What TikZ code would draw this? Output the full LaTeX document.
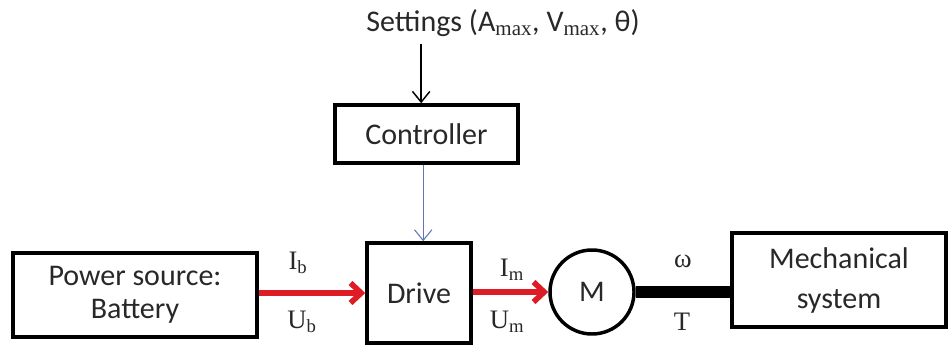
\documentclass[tikz,border=0pt]{standalone}
\usepackage{fontspec}
\setmainfont{Carlito}
\newfontfamily\labfont{Liberation Serif}
\usetikzlibrary{arrows.meta}
\definecolor{flowred}{RGB}{222,28,38}
\definecolor{ctrlblue}{RGB}{95,120,180}
\definecolor{textgray}{RGB}{40,40,40}
\tikzset{
  blockbox/.style={draw, line width=2.6pt, inner sep=0pt, align=center,
    text=textgray, font=\fontsize{22.5}{25}\selectfont},
  siglabel/.style={inner sep=0pt, text=textgray, font=\labfont\fontsize{20}{20}\selectfont},
  sigarrow/.style={line width=1.1pt, -{Straight Barb[length=8pt,width=13pt]}},
  powerflow/.style={flowred, line width=4.2pt, -{Straight Barb[length=8pt,width=15pt]}},
}
\begin{document}
\begin{tikzpicture}[x=0.75pt,y=0.75pt,yscale=-1,xscale=1]
\useasboundingbox (0,0) rectangle (948,346);
%Blocks
\node [blockbox, minimum width=183pt, minimum height=63pt] (power) at (135,295) {Power source:\\Battery};
\node [blockbox, minimum width=78pt, minimum height=75pt] (drive) at (419,293) {Drive};
\node [blockbox, minimum width=137pt, minimum height=43.5pt] (ctrl) at (426.5,134) {Controller};
\node [blockbox, circle, minimum size=63pt] (motor) at (592,292) {M};
\node [blockbox, minimum width=160.5pt, minimum height=70.5pt,
  font=\fontsize{22.5}{30}\selectfont] (mech) at (839,280) {Mechanical\\system};
% Text Node
\node [inner sep=0pt, text=textgray, font=\fontsize{22.5}{25}\selectfont] (settings) at (503,23)
  {Settings (A\textsubscript{\labfont max}, V\textsubscript{\labfont max}, θ)};
%Connectors
\draw [sigarrow] ([xshift=-4pt]ctrl.north |- settings.south) ++(0,7) -- ([xshift=-4pt]ctrl.north);
\draw [sigarrow, ctrlblue, line width=0.8pt] ([xshift=-2.5pt]ctrl.south) -- ([xshift=-2.5pt]ctrl.south |- drive.north);
\draw [powerflow] (power.east |- drive) -- (drive.west);
\draw [powerflow] (drive.east |- motor) -- (motor.west);
\draw [line width=9pt] (motor.east) -- (motor.east -| mech.west);
%Labels
\node [siglabel] (ib) at (298,263) {I\textsubscript{b}};
\node [siglabel] (ub) at (302,322) {U\textsubscript{b}};
\node [siglabel] (im) at (512,270) {I\textsubscript{m}};
\node [siglabel] (um) at (507,322) {U\textsubscript{m}};
\node [siglabel] (omega) at (683,261) {ω};
\node [siglabel] (torque) at (682,322) {T};
\end{tikzpicture}
\end{document}
